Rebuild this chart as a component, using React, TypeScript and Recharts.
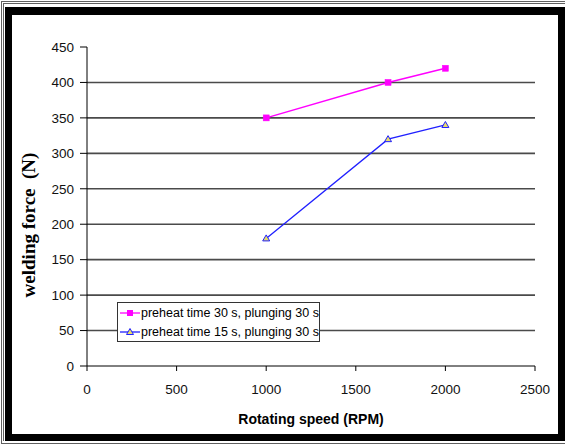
import React from 'react';
import { LineChart, Line, XAxis, YAxis, ReferenceLine, Label } from 'recharts';

const rpm = [1000, 1680, 2000];
const force30 = [350, 400, 420];
const force15 = [180, 320, 340];
const xTicks = [0, 500, 1000, 1500, 2000, 2500];
const yTicks = [0, 50, 100, 150, 200, 250, 300, 350, 400, 450];
const gridValues = [50, 100, 150, 200, 250, 300, 350, 400];
const seriesNames = ['preheat time 30 s, plunging 30 s', 'preheat time 15 s, plunging 30 s'];
const xTitle = 'Rotating speed (RPM)';
const yTitle = 'welding force  (N)';

const data30 = rpm.map((x, i) => ({ x, y: force30[i] }));
const data15 = rpm.map((x, i) => ({ x, y: force15[i] }));

const PINK = '#ff00ff';
const BLUE = '#2020ff';
const TRI_FILL = '#e6dc6a';
const SANS = '"Liberation Sans", Arial, sans-serif';
const SERIF = '"Liberation Serif", "Times New Roman", serif';

const SquareDot = (props: any) => {
  const { cx, cy, index } = props;
  if (cx == null || cy == null) return <g key={`sq-${index}`} />;
  return <rect key={`sq-${index}`} x={cx - 3} y={cy - 3} width={6} height={6} fill={PINK} stroke={PINK} strokeWidth={0.5} />;
};

const TriDot = (props: any) => {
  const { cx, cy, index } = props;
  if (cx == null || cy == null) return <g key={`tr-${index}`} />;
  return (
    <path
      key={`tr-${index}`}
      d={`M${cx},${cy - 3.5} L${cx + 3.5},${cy + 2.5} L${cx - 3.5},${cy + 2.5} Z`}
      fill={TRI_FILL}
      stroke={BLUE}
      strokeWidth={1}
    />
  );
};

const LegendBox = () => (
  <div
    style={{
      position: 'absolute',
      left: 117,
      top: 302,
      boxSizing: 'border-box',
      width: 203,
      height: 40,
      border: '1px solid #333',
      background: '#fff',
      fontFamily: SANS,
      fontSize: 12.5,
      color: '#000',
    }}
  >
    {seriesNames.map((name, i) => (
      <div key={name} style={{ height: 19, display: 'flex', alignItems: 'center', paddingLeft: 2, whiteSpace: 'nowrap' }}>
        <svg width={20} height={10} style={{ display: 'block', marginRight: 1 }}>
          <line x1={0} y1={5} x2={20} y2={5} stroke={i === 0 ? PINK : BLUE} strokeWidth={1.3} />
          {i === 0 ? (
            <rect x={7} y={2} width={6} height={6} fill={PINK} />
          ) : (
            <path d="M10,1.5 L13.5,7.5 L6.5,7.5 Z" fill={TRI_FILL} stroke={BLUE} strokeWidth={1} />
          )}
        </svg>
        <span>{name}</span>
      </div>
    ))}
  </div>
);

export default function App() {
  return (
    <div style={{ position: 'absolute', left: 0, top: 0, width: 565, height: 444, background: '#fff', overflow: 'hidden' }}>
      <div style={{ position: 'absolute', left: 1, top: 1, width: 700, height: 441, borderTop: '1px solid #606060', borderLeft: '1px solid #606060', borderBottom: '1px solid #606060' }} />
      <div style={{ position: 'absolute', left: 3, top: 3, width: 700, height: 437, borderTop: '1px solid #606060', borderLeft: '1px solid #606060' }} />
      <div
        style={{
          position: 'absolute',
          left: 5,
          top: 7,
          width: 560,
          height: 434,
          boxSizing: 'border-box',
          borderStyle: 'solid',
          borderColor: '#000',
          borderTopWidth: 8,
          borderLeftWidth: 7,
          borderRightWidth: 7,
          borderBottomWidth: 7,
          background: '#fff',
        }}
      />
      <div style={{ position: 'absolute', left: 0, top: 0 }}>
        <LineChart width={565} height={444} margin={{ top: 47, right: 30, bottom: 48, left: 0 }}>
          <XAxis
            type="number"
            dataKey="x"
            domain={[0, 2500]}
            ticks={xTicks}
            interval={0}
            height={30}
            tickSize={5}
            tickMargin={13}
            stroke="#000"
            tick={{ fill: '#111', fontSize: 13.5, fontFamily: SANS }}
            allowDuplicatedCategory={false}
          >
            <Label
              content={({ viewBox }: any) => (
                <text
                  x={viewBox.x + viewBox.width / 2}
                  y={viewBox.y + 58}
                  textAnchor="middle"
                  fontFamily={SANS}
                  fontSize={14}
                  fontWeight="bold"
                  fill="#000"
                >
                  {xTitle}
                </text>
              )}
            />
          </XAxis>
          <YAxis
            type="number"
            domain={[0, 450]}
            ticks={yTicks}
            interval={0}
            width={87}
            tickSize={7}
            tickMargin={6}
            stroke="#000"
            tick={{ fill: '#111', fontSize: 13.5, fontFamily: SANS }}
          >
            <Label
              content={({ viewBox }: any) => {
                const x = 35;
                const y = viewBox.y + viewBox.height / 2 + 18.5;
                return (
                  <text
                    x={x}
                    y={y}
                    transform={`rotate(-90, ${x}, ${y})`}
                    textAnchor="middle"
                    fontFamily={SERIF}
                    fontSize={19}
                    fontWeight="bold"
                    fill="#000"
                    style={{ whiteSpace: 'pre' }}
                  >
                    {yTitle}
                  </text>
                );
              }}
            />
          </YAxis>
          {gridValues.map((v) => (
            <ReferenceLine key={`g-${v}`} y={v} stroke="#4a4a4a" strokeWidth={1.6} />
          ))}
          <Line
            data={data30}
            dataKey="y"
            name={seriesNames[0]}
            stroke={PINK}
            strokeWidth={1.5}
            dot={SquareDot}
            activeDot={false}
            isAnimationActive={false}
          />
          <Line
            data={data15}
            dataKey="y"
            name={seriesNames[1]}
            stroke={BLUE}
            strokeWidth={1.3}
            dot={TriDot}
            activeDot={false}
            isAnimationActive={false}
          />
        </LineChart>
      </div>
      <LegendBox />
    </div>
  );
}
